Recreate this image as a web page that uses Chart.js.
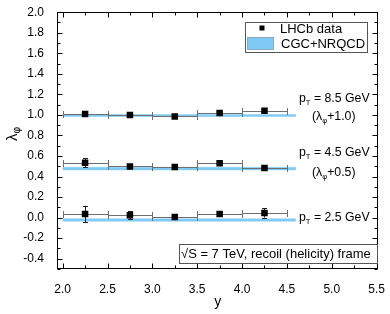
<!DOCTYPE html>
<html>
<head>
<meta charset="utf-8">
<script src="https://cdn.jsdelivr.net/npm/chart.js@4.4.1/dist/chart.umd.min.js"></script>
<style>
html,body{margin:0;padding:0;background:#fff;}
#wrap{width:390px;height:314px;}
</style>
</head>
<body>
<div id="wrap"><canvas id="c" width="390" height="314"></canvas></div>
<script>
// ---- data ----
const binCenters = [2.25, 2.75, 3.25, 3.75, 4.25];
const binLow = [2.0, 2.5, 3.0, 3.5, 4.0];
const binHigh = [2.5, 3.0, 3.5, 4.0, 4.5];

const lhcb85 = [1.010, 1.000, 0.985, 1.018, 1.040];
const err85 = [0.015, 0.012, 0.012, 0.015, 0.015];
const lhcb45 = [0.534, 0.499, 0.492, 0.530, 0.483];
const err45 = [0.045, 0.015, 0.015, 0.015, 0.020];
const lhcb25 = [0.036, 0.023, 0.007, 0.036, 0.046];
const err25 = [0.080, 0.040, 0.015, 0.015, 0.045];

const cgcRange = [2.0, 4.6];
const cgc85 = [0.985, 1.004];
const cgc45 = [0.465, 0.490];
const cgc25 = [-0.035, -0.012];

const xTicks = [2.0, 2.5, 3.0, 3.5, 4.0, 4.5, 5.0, 5.5];
const xMinor = [2.25, 2.75, 3.25, 3.75, 4.25, 4.75, 5.25];
const yTicks = [-0.4, -0.2, 0.0, 0.2, 0.4, 0.6, 0.8, 1.0, 1.2, 1.4, 1.6, 1.8, 2.0];
const yMinor = [-0.5, -0.3, -0.1, 0.1, 0.3, 0.5, 0.7, 0.9, 1.1, 1.3, 1.5, 1.7, 1.9];

const seriesLabels = ['p_T = 8.5 GeV', 'p_T = 4.5 GeV', 'p_T = 2.5 GeV'];
const shiftLabels = ['(λ_φ+1.0)', '(λ_φ+0.5)', ''];

const FONT = "'Liberation Sans', Arial, Helvetica, sans-serif";
const BAND = 'rgb(128,203,246)';

function pts(ys){ return binCenters.map((x,i)=>({x:x, y:ys[i]})); }
function bandLine(v){ return cgcRange.map(x=>({x:x, y:v})); }

const datasets = [];
const pointSets = [[lhcb85, err85],[lhcb45, err45],[lhcb25, err25]];
pointSets.forEach((s,k)=>{
  datasets.push({type:'scatter', label: k===0 ? 'LHCb data' : 'LHCb data ' + seriesLabels[k],
    data: pts(s[0]), errY: s[1], isPoints:true,
    pointStyle:'rect', pointRadius:4.6, pointHoverRadius:4.6,
    backgroundColor:'#000', borderColor:'#000', borderWidth:0, order:0});
});
[cgc85, cgc45, cgc25].forEach((b,k)=>{
  datasets.push({type:'line', label:'CGC+NRQCD lo '+k, data: bandLine(b[0]),
    borderColor: BAND, borderWidth:0.5, pointRadius:0, fill:false, order:10});
  datasets.push({type:'line', label: k===0 ? 'CGC+NRQCD' : 'CGC+NRQCD hi '+k, data: bandLine(b[1]),
    borderColor: BAND, borderWidth:0.5, backgroundColor: BAND, pointRadius:0, fill:'-1', order:10});
});

function drawRich(ctx, parts, x, y, size, subScale){
  subScale = subScale || 0.68;
  let cx = x;
  ctx.textBaseline = 'middle';
  ctx.textAlign = 'left';
  parts.forEach(p=>{
    if (p.sub){
      ctx.font = (size*subScale).toFixed(1) + 'px ' + FONT;
      ctx.fillText(p.t, cx, y + size*0.3);
      cx += ctx.measureText(p.t).width;
    } else {
      ctx.font = size + 'px ' + FONT;
      ctx.fillText(p.t, cx, y);
      cx += ctx.measureText(p.t).width;
    }
  });
  return cx - x;
}
function parse(str){
  const out = [];
  let buf = '';
  for (let i=0;i<str.length;i++){
    if (str[i]==='_' && i+1<str.length){
      if (buf) out.push({t:buf}); buf='';
      out.push({t:str[i+1], sub:true}); i++;
    } else buf += str[i];
  }
  if (buf) out.push({t:buf});
  return out;
}

const decor = {
  id:'decor',
  beforeDatasetDraw(chart, args){
    const ds = chart.data.datasets[args.index];
    if (!ds.isPoints) return;
    const ctx = chart.ctx, xs = chart.scales.x, ys = chart.scales.y;
    ctx.save();
    ctx.lineWidth = 1;
    ctx.strokeStyle = '#6e6e6e';
    ds.data.forEach((p,i)=>{
      const y = Math.round(ys.getPixelForValue(p.y)) + 0.5;
      const x0 = Math.round(xs.getPixelForValue(binLow[i])) + 0.5;
      const x1 = Math.round(xs.getPixelForValue(binHigh[i])) + 0.5;
      ctx.beginPath();
      ctx.moveTo(x0, y); ctx.lineTo(x1, y);
      ctx.moveTo(x0, y-3.5); ctx.lineTo(x0, y+3.5);
      ctx.moveTo(x1, y-3.5); ctx.lineTo(x1, y+3.5);
      ctx.stroke();
    });
    ctx.strokeStyle = '#222';
    ds.data.forEach((p,i)=>{
      const x = Math.round(xs.getPixelForValue(p.x)) + 0.5;
      const y0 = ys.getPixelForValue(p.y - ds.errY[i]);
      const y1 = ys.getPixelForValue(p.y + ds.errY[i]);
      ctx.beginPath();
      ctx.moveTo(x, y0); ctx.lineTo(x, y1);
      ctx.moveTo(x-2.5, Math.round(y0)+0.5); ctx.lineTo(x+2.5, Math.round(y0)+0.5);
      ctx.moveTo(x-2.5, Math.round(y1)+0.5); ctx.lineTo(x+2.5, Math.round(y1)+0.5);
      ctx.stroke();
    });
    ctx.restore();
  },
  afterDraw(chart){
    const ctx = chart.ctx, a = chart.chartArea, xs = chart.scales.x, ys = chart.scales.y;
    ctx.save();
    ctx.strokeStyle = '#000';
    ctx.lineWidth = 1;
    const L = Math.round(a.left)+0.5, R = Math.round(a.right)-0.5, T = Math.round(a.top)+0.5, B = Math.round(a.bottom)-0.5;
    ctx.strokeRect(L, T, R-L, B-T);
    ctx.beginPath();
    const tickX = (v, len)=>{
      const x = Math.round(xs.getPixelForValue(v)) + 0.5;
      ctx.moveTo(x, B); ctx.lineTo(x, B-len);
      ctx.moveTo(x, T); ctx.lineTo(x, T+len);
    };
    const tickY = (v, len)=>{
      const y = Math.round(ys.getPixelForValue(v)) + 0.5;
      ctx.moveTo(L, y); ctx.lineTo(L+len, y);
      ctx.moveTo(R, y); ctx.lineTo(R-len, y);
    };
    xTicks.forEach(v=>tickX(v,5)); xMinor.forEach(v=>tickX(v,3));
    yTicks.forEach(v=>tickY(v,5)); yMinor.forEach(v=>tickY(v,3));
    ctx.stroke();

    ctx.fillStyle = '#000';
    ctx.save();
    ctx.translate(13, 134);
    ctx.rotate(-Math.PI/2);
    ctx.font = '15px ' + FONT;
    const w1 = ctx.measureText('λ').width;
    ctx.font = '10px ' + FONT;
    const w2 = ctx.measureText('φ').width;
    drawRich(ctx, parse('λ_φ'), -(w1+w2)/2, 0, 15);
    ctx.restore();

    drawRich(ctx, parse(seriesLabels[0]), 299, 99, 12.3, 0.62);
    drawRich(ctx, parse(shiftLabels[0]), 312, 117, 12.3, 0.62);
    drawRich(ctx, parse(seriesLabels[1]), 299, 153, 12.3, 0.62);
    drawRich(ctx, parse(shiftLabels[1]), 312, 173, 12.3, 0.62);
    drawRich(ctx, parse(seriesLabels[2]), 299, 218, 12.3, 0.62);

    ctx.fillStyle = '#fff';
    ctx.fillRect(245.5, 22.5, 122, 30);
    ctx.strokeStyle = '#555';
    ctx.strokeRect(245.5, 22.5, 122, 30);
    ctx.fillStyle = '#000';
    ctx.fillRect(259.5, 25.5, 5, 5);
    ctx.fillStyle = BAND;
    ctx.fillRect(247.5, 37.5, 26, 12);
    ctx.strokeStyle = '#8aa9bb';
    ctx.strokeRect(247.5, 37.5, 26, 12);
    ctx.fillStyle = '#000';
    drawRich(ctx, [{t: chart.data.datasets[0].label}], 280, 29, 13);
    drawRich(ctx, [{t: chart.data.datasets[4].label}], 281, 44, 13);

    ctx.fillStyle = '#fff';
    ctx.fillRect(179.5, 244.5, 198, 19);
    ctx.strokeStyle = '#555';
    ctx.strokeRect(179.5, 244.5, 198, 19);
    ctx.fillStyle = '#000';
    drawRich(ctx, [{t:'√S = 7 TeV, recoil (helicity) frame'}], 181, 254.5, 13);
    ctx.restore();
  }
};

new Chart(document.getElementById('c'), {
  data: { datasets: datasets },
  options: {
    responsive:false, animation:false,
    layout:{ padding:{ left:0, top:12, right:11, bottom:0 } },
    plugins:{ legend:{display:false}, tooltip:{enabled:false} },
    scales:{
      x:{ type:'linear', min:1.937, max:5.519,
        afterBuildTicks: s => { s.ticks = xTicks.map(v=>({value:v})); },
        afterFit: s => { s.height = 45; },
        grid:{display:false}, border:{display:false},
        ticks:{ color:'#000', padding:5, font:{family:FONT, size:12}, maxRotation:0, autoSkip:false,
          callback: v => Number(v).toFixed(1) },
        title:{ display:true, text:'y', color:'#000', font:{family:FONT, size:14}, padding:{top:0,bottom:3} }
      },
      y:{ type:'linear', min:-0.5, max:2.0,
        afterBuildTicks: s => { s.ticks = yTicks.map(v=>({value:v})); },
        afterFit: s => { s.width = 57; },
        grid:{display:false}, border:{display:false},
        ticks:{ color:'#000', padding:5, font:{family:FONT, size:12}, autoSkip:false,
          callback: v => Number(v).toFixed(1) }
      }
    }
  },
  plugins:[decor]
});
</script>
</body>
</html>
